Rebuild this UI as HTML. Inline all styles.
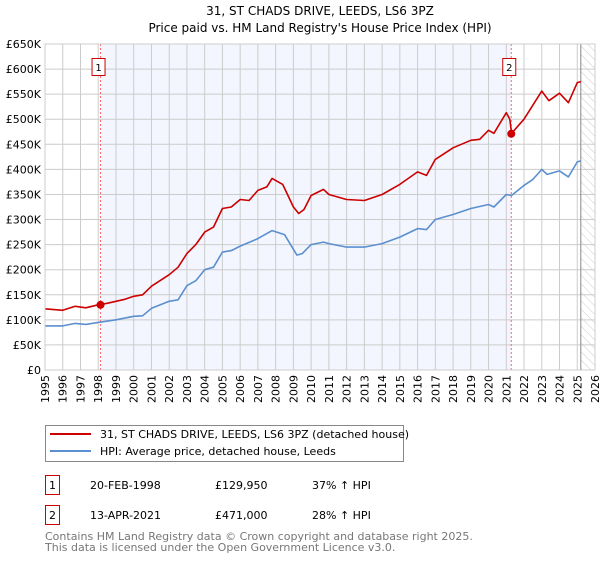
<!DOCTYPE html>
<html><head><meta charset="utf-8"><style>
body{margin:0;background:#fff;font-family:"DejaVu Sans","Liberation Sans",sans-serif;}
svg text{font-family:"DejaVu Sans","Liberation Sans",sans-serif;}
</style></head><body>
<svg id="chart" width="600" height="560" xmlns="http://www.w3.org/2000/svg">
<defs><pattern id="hatch" width="6" height="6" patternUnits="userSpaceOnUse" patternTransform="rotate(-45)"><line x1="0" y1="0" x2="0" y2="6" stroke="#ccc" stroke-width="1"/></pattern></defs>
<text x="320" y="15" text-anchor="middle" font-size="12">31, ST CHADS DRIVE, LEEDS, LS6 3PZ</text>
<text x="320" y="32" text-anchor="middle" font-size="12">Price paid vs. HM Land Registry's House Price Index (HPI)</text>
<g id="plot"></g>
<g>
<rect x="45.5" y="425.5" width="358" height="36" fill="#fff" stroke="#888"/>
<line x1="50" y1="434" x2="91" y2="434" stroke="#cc0000" stroke-width="2"/>
<text x="100" y="438" font-size="11">31, ST CHADS DRIVE, LEEDS, LS6 3PZ (detached house)</text>
<line x1="50" y1="451" x2="91" y2="451" stroke="#5b8fd0" stroke-width="2"/>
<text x="100" y="455" font-size="11">HPI: Average price, detached house, Leeds</text>
</g>
<g font-size="11">
<rect x="45.5" y="475.5" width="14" height="19" fill="#fff" stroke="#cc0000"/><text x="52.5" y="489" text-anchor="middle">1</text>
<text x="90" y="489">20-FEB-1998</text><text x="215" y="489">£129,950</text><text x="312" y="489">37% ↑ HPI</text>
<rect x="45.5" y="505.5" width="14" height="19" fill="#fff" stroke="#cc0000"/><text x="52.5" y="519" text-anchor="middle">2</text>
<text x="90" y="519">13-APR-2021</text><text x="215" y="519">£471,000</text><text x="312" y="519">28% ↑ HPI</text>
</g>
<text x="45" y="540" font-size="11" fill="#777">Contains HM Land Registry data © Crown copyright and database right 2025.</text>
<text x="45" y="551" font-size="11" fill="#777">This data is licensed under the Open Government Licence v3.0.</text>
</svg>
<script>
const hpiYears=[1995,1996,1996.7,1997.3,1998,1999,2000,2000.5,2001,2002,2002.5,2003,2003.5,2004,2004.5,2005,2005.5,2006,2007,2007.8,2008.5,2009.2,2009.5,2010,2010.7,2011,2012,2013,2014,2015,2016,2016.5,2017,2018,2019,2020,2020.3,2021,2021.3,2022,2022.5,2023,2023.3,2024,2024.5,2025,2025.2];
const hpiValues=[88000,88000,93000,91000,95000,100000,107000,108000,123000,137000,140000,168000,178000,200000,205000,235000,238000,247000,262000,278000,270000,229000,232000,250000,255000,252000,245000,245000,252000,265000,282000,280000,300000,310000,322000,330000,325000,350000,348000,368000,380000,400000,390000,397000,385000,415000,417000];
const ppYears=[1995,1996,1996.7,1997.3,1998,1998.5,1999,1999.5,2000,2000.5,2001,2002,2002.5,2003,2003.5,2004,2004.5,2005,2005.5,2006,2006.5,2007,2007.5,2007.8,2008.4,2009,2009.3,2009.6,2010,2010.7,2011,2012,2013,2014,2015,2016,2016.5,2017,2018,2019,2019.5,2020,2020.3,2021,2021.2,2021.3,2022,2023,2023.4,2024,2024.5,2025,2025.2];
const ppValues=[122000,119000,127000,124000,130000,133000,137000,141000,147000,150000,167000,190000,205000,232000,250000,275000,285000,322000,325000,340000,338000,358000,365000,382000,370000,325000,312000,320000,348000,360000,350000,340000,338000,350000,370000,395000,388000,420000,443000,458000,460000,478000,472000,513000,500000,472000,500000,556000,537000,552000,533000,573000,575000];
const saleYears=[1998.13,2021.28];
const saleValues=[129950,471000];
const saleLabels=["1","2"];
const yTicks=[0,50000,100000,150000,200000,250000,300000,350000,400000,450000,500000,550000,600000,650000];
const yTickLabels=["£0","£50K","£100K","£150K","£200K","£250K","£300K","£350K","£400K","£450K","£500K","£550K","£600K","£650K"];
const xTicks=[1995,1996,1997,1998,1999,2000,2001,2002,2003,2004,2005,2006,2007,2008,2009,2010,2011,2012,2013,2014,2015,2016,2017,2018,2019,2020,2021,2022,2023,2024,2025,2026];

const X0=45,X1=595,Y0=370,Y1=44;
const xs=y=>X0+(y-1995)/(2026-1995)*(X1-X0);
const ys=v=>Y0-v/650000*(Y0-Y1);
const NS="http://www.w3.org/2000/svg";
const g=document.getElementById('plot');
function mk(t,a){const e=document.createElementNS(NS,t);for(const k in a)e.setAttribute(k,a[k]);g.appendChild(e);return e;}
let e;
e=mk('rect',{x:X0,y:Y1,width:X1-X0,height:Y0-Y1,fill:'#fff'});


e=mk('rect',{x:xs(saleYears[0]),y:Y1,width:xs(saleYears[1])-xs(saleYears[0]),height:Y0-Y1,fill:'#f3f6fe'});


e=mk('rect',{x:xs(2025.2),y:Y1,width:X1-xs(2025.2),height:Y0-Y1,fill:'url(#hatch)'});


yTicks.forEach((v,i)=>{
 e=mk('line',{x1:X0,x2:X1,y1:ys(v),y2:ys(v),stroke:'#ccc','stroke-width':1});
 
 
 e=mk('text',{x:X0-4,y:ys(v)+4,'text-anchor':'end','font-size':11});
 e.textContent=yTickLabels[i];
 
 
});
xTicks.forEach(y=>{
 e=mk('line',{x1:xs(y),x2:xs(y),y1:Y1,y2:Y0,stroke:'#ccc','stroke-width':1});
 
 
 e=mk('text',{x:0,y:0,'font-size':11,'text-anchor':'end',transform:`translate(${xs(y)+4},${Y0+5}) rotate(-90)`});
 e.textContent=y;
 
 
});
e=mk('line',{x1:xs(2025.2),x2:xs(2025.2),y1:Y1,y2:Y0,stroke:'#888','stroke-width':1});


saleYears.forEach((y,i)=>{
 e=mk('line',{x1:xs(y),x2:xs(y),y1:Y1,y2:Y0,stroke:'#f66','stroke-width':1,'stroke-dasharray':'2,2'});
 
 
});
function path(xa,va,col,name){
 const d=xa.map((y,i)=>(i?'L':'M')+xs(y).toFixed(1)+','+ys(va[i]).toFixed(1)).join(' ');
 e=mk('path',{d:d,fill:'none',stroke:col,'stroke-width':1.6,'stroke-linejoin':'round'});
 
 
}
path(hpiYears,hpiValues,'#5b8fd0','hpi-line');
path(ppYears,ppValues,'#cc0000','price-paid-line');
saleYears.forEach((y,i)=>{
 e=mk('circle',{cx:xs(y),cy:ys(saleValues[i]),r:4,fill:'#cc0000'});
 
 
 e=mk('rect',{x:xs(y)-8.5,y:58.5,width:13,height:17,fill:'#fff',stroke:'#cc0000'});
 
 
 e=mk('text',{x:xs(y)-2,y:71,'text-anchor':'middle','font-size':10});
 e.textContent=saleLabels[i];
 
 
});
e=mk('rect',{x:X0,y:Y1,width:X1-X0,height:Y0-Y1,fill:'none',stroke:'#ccc'});


</script>
</body></html>
